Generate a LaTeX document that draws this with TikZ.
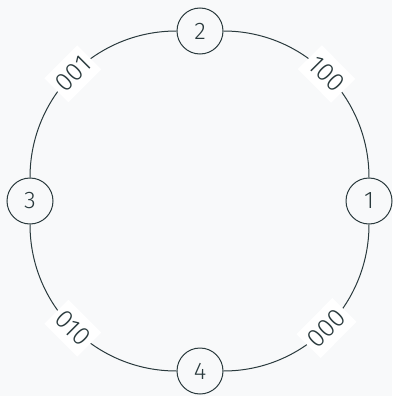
\documentclass[tikz,border=0pt]{standalone}
\usepackage{fontspec}
\setmainfont{Fira Sans Light}
\usetikzlibrary{positioning}
\definecolor{ink}{HTML}{2A3A3D}
\definecolor{paper}{HTML}{F8F9FA}

\begin{document}
\begin{tikzpicture}[
  x=1pt, y=-1pt,
  every node/.style={align=center, text=ink},
  state/.style={draw=ink, circle, fill=paper, minimum size=46pt, inner sep=0pt, line width=1pt,
    font=\fontsize{24}{28}\selectfont},
  code/.style={fill=white, sloped, midway, inner xsep=4pt, inner ysep=8pt,
    font=\fontsize{26}{30}\selectfont},
  link/.style={draw=ink, line width=1pt}
]
\fill[paper] (0,0) rectangle (392,396);
\useasboundingbox (0,0) rectangle (392,396);
% Nodes
\node[state] (s1) at (369,201) {1};
\node[state] (s2) at (200,31) {2};
\node[state] (s3) at (30,201) {3};
\node[state] (s4) at (200,371) {4};
% Edges
\draw[link] (s1) to[out=90, in=0] node[code] {100} (s2);
\draw[link] (s2) to[out=180, in=90] node[code] {001} (s3);
\draw[link] (s3) to[out=-90, in=180] node[code] {010} (s4);
\draw[link] (s4) to[out=0, in=-90] node[code] {000} (s1);
\end{tikzpicture}
\end{document}
